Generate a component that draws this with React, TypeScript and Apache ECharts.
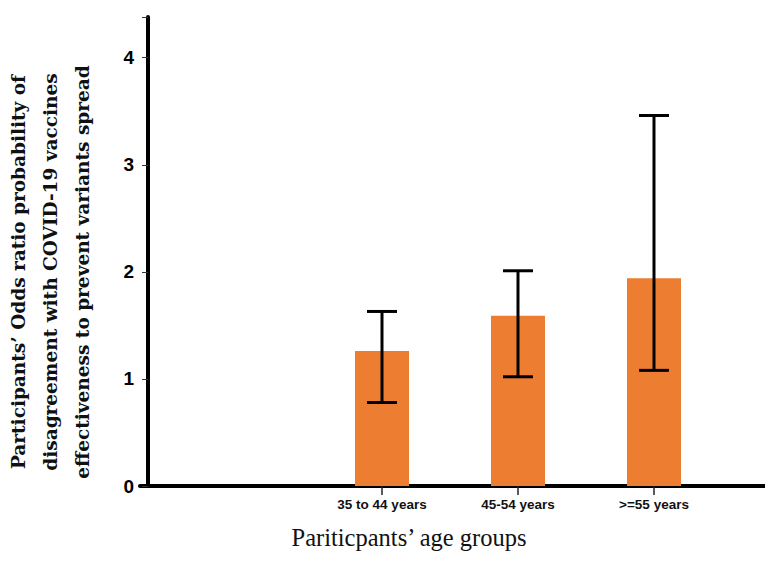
import React, { useEffect, useRef } from "react";
import * as echarts from "echarts";

const categories = ["", "35 to 44 years", "45-54 years", ">=55 years"];
const oddsRatios: (number | null)[] = [null, 1.26, 1.59, 1.94];
const ciLow: (number | null)[] = [null, 0.78, 1.02, 1.08];
const ciHigh: (number | null)[] = [null, 1.63, 2.01, 3.46];
const yTicks = [0, 1, 2, 3, 4];

const yName = [
  "Participants\u2019 Odds ratio probability of",
  "disagreement with COVID-19 vaccines",
  "effectiveness to prevent variants spread",
];
const xName = "Pariticpants\u2019 age groups";

export default function App() {
  const ref = useRef<HTMLDivElement>(null);
  useEffect(() => {
    document.body.style.margin = "0";
    if (!ref.current) return;
    const chart = echarts.init(ref.current, undefined, { renderer: "svg" });
    const errData = categories
      .map((_, i) => [i, ciLow[i], ciHigh[i]])
      .filter((d) => d[1] != null && d[2] != null);
    chart.setOption({
      animation: false,
      backgroundColor: "#fff",
      grid: [
        { left: 178, right: 43, top: 17, bottom: 88 },
        { left: 140, right: 0, top: 17, bottom: 88 },
      ],
      xAxis: [
        {
          type: "category",
          gridIndex: 0,
          data: categories,
          axisLine: { show: false },
          axisTick: {
            show: true,
            alignWithLabel: true,
            length: 9,
            interval: (i: number) => i > 0,
            lineStyle: { color: "#222", width: 1.5 },
          },
          axisLabel: {
            margin: 11,
            color: "#111",
            fontFamily: "Liberation Sans",
            fontWeight: "bold",
            fontSize: 13.5,
          },
        },
        {
          type: "category",
          gridIndex: 1,
          data: [""],
          axisLine: { show: true, lineStyle: { color: "#000", width: 4 } },
          axisTick: { show: false },
          axisLabel: { show: false },
        },
      ],
      yAxis: [
        {
          type: "value",
          gridIndex: 0,
          min: 0,
          max: 4.38,
          interval: 1,
          offset: 30,
          axisLine: { show: true, lineStyle: { color: "#000", width: 4 } },
          axisTick: { show: true, length: 6, lineStyle: { color: "#333", width: 1 } },
          splitLine: { show: false },
          axisLabel: {
            margin: 14,
            color: "#000",
            fontFamily: "Liberation Sans",
            fontWeight: "bold",
            fontSize: 19,
            formatter: (v: number) => (yTicks.includes(v) ? String(v) : ""),
          },
        },
        {
          type: "value",
          gridIndex: 1,
          show: false,
        },
      ],
      series: [
        {
          type: "bar",
          xAxisIndex: 0,
          yAxisIndex: 0,
          data: oddsRatios,
          barWidth: 54,
          itemStyle: { color: "#ED7D31" },
        },
        {
          type: "custom",
          xAxisIndex: 0,
          yAxisIndex: 0,
          data: errData,
          encode: { x: 0, y: [1, 2] },
          z: 5,
          renderItem: (params: any, api: any) => {
            const x = api.value(0);
            const pHi = api.coord([x, api.value(2)]);
            const pLo = api.coord([x, api.value(1)]);
            const hw = 15;
            const st = { stroke: "#000", lineWidth: 3 };
            return {
              type: "group",
              children: [
                { type: "line", shape: { x1: pHi[0], y1: pHi[1], x2: pLo[0], y2: pLo[1] }, style: st },
                { type: "line", shape: { x1: pHi[0] - hw, y1: pHi[1], x2: pHi[0] + hw, y2: pHi[1] }, style: st },
                { type: "line", shape: { x1: pLo[0] - hw, y1: pLo[1], x2: pLo[0] + hw, y2: pLo[1] }, style: st },
              ],
            };
          },
        },
      ],
      graphic: [
        {
          type: "text",
          x: 50,
          y: 272,
          rotation: Math.PI / 2,
          style: {
            text: yName.join("\n"),
            textAlign: "center",
            textVerticalAlign: "middle",
            lineHeight: 32,
            fontFamily: "DejaVu Serif",
            fontWeight: "bold",
            fontSize: 18.5,
            fill: "#111",
          },
        },
        {
          type: "text",
          x: 409,
          y: 537,
          style: {
            text: xName,
            textAlign: "center",
            textVerticalAlign: "middle",
            fontFamily: "Liberation Serif",
            fontSize: 24.5,
            fill: "#111",
          },
        },
      ],
    });
    return () => chart.dispose();
  }, []);
  return <div ref={ref} style={{ width: 765, height: 574 }} />;
}
